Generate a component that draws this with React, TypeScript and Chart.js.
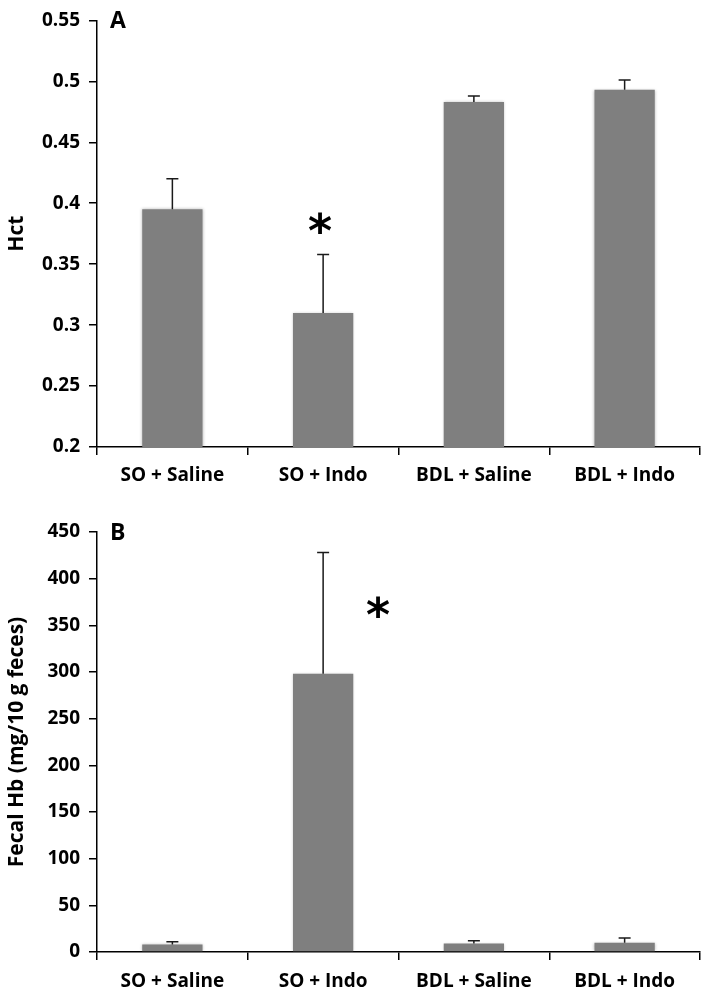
import React, { useEffect, useRef } from "react";
import { Chart, registerables } from "chart.js";

Chart.register(...registerables);

const categories = ["SO + Saline", "SO + Indo", "BDL + Saline", "BDL + Indo"];

const hctValues = [0.395, 0.31, 0.483, 0.493];
const hctErrors = [0.025, 0.048, 0.005, 0.008];
const hctTicks = [0.2, 0.25, 0.3, 0.35, 0.4, 0.45, 0.5, 0.55];
const hctStars = [null, 0.384, null, null];

const hbValues = [8, 298, 9, 10];
const hbErrors = [3, 130, 3, 5];
const hbTicks = [0, 50, 100, 150, 200, 250, 300, 350, 400, 450];
const hbStars = [null, 370, null, null];

const FONT = "'Open Sans', sans-serif";

type PanelProps = {
  letter: string;
  title: string;
  values: number[];
  errors: number[];
  ticks: number[];
  stars: (number | null)[];
  starDx: number;
  height: number;
  top: number;
  bottom: number;
  labelPad: number;
};

function Panel(p: PanelProps) {
  const ref = useRef<HTMLCanvasElement | null>(null);
  useEffect(() => {
    if (!ref.current) return;
    const decor = {
      id: "decor",
      beforeDatasetsDraw(chart: any) {
        const ctx = chart.ctx;
        ctx.save();
        ctx.shadowColor = "rgba(0,0,0,0.28)";
        ctx.shadowBlur = 3;
      },
      afterDatasetsDraw(chart: any) {
        const ctx = chart.ctx;
        ctx.restore();
        const xs = chart.scales.x;
        const ys = chart.scales.y;
        const meta = chart.getDatasetMeta(0);
        ctx.save();
        ctx.strokeStyle = "#1a1a1a";
        ctx.lineWidth = 1.5;
        meta.data.forEach((el: any, i: number) => {
          const yTop = ys.getPixelForValue(p.values[i] + p.errors[i]);
          ctx.beginPath();
          ctx.moveTo(el.x, el.y);
          ctx.lineTo(el.x, yTop);
          ctx.moveTo(el.x - 6, yTop);
          ctx.lineTo(el.x + 6, yTop);
          ctx.stroke();
        });
        ctx.fillStyle = "#000";
        ctx.font = "bold 46px 'DejaVu Sans', sans-serif";
        ctx.textAlign = "center";
        ctx.textBaseline = "alphabetic";
        p.stars.forEach((s, i) => {
          if (s == null) return;
          const cx = xs.getPixelForValue(i) + p.starDx;
          const cy = ys.getPixelForValue(s);
          const m = ctx.measureText("*");
          const asc = m.actualBoundingBoxAscent;
          const desc = m.actualBoundingBoxDescent;
          ctx.fillText("*", cx, cy + (asc - desc) / 2);
        });
        ctx.font = "bold 23px " + FONT;
        ctx.textAlign = "left";
        ctx.textBaseline = "middle";
        ctx.fillText(p.letter, 110, chart.chartArea.top + 1);
        ctx.restore();
      },
    };
    const chart = new Chart(ref.current, {
      type: "bar",
      data: {
        labels: categories,
        datasets: [
          {
            data: p.values,
            backgroundColor: "#7f7f7f",
            borderWidth: 0,
            barPercentage: 0.4,
            categoryPercentage: 1,
          },
        ],
      },
      options: {
        animation: false,
        responsive: false,
        devicePixelRatio: 1,
        layout: { padding: { top: p.top, right: 9, left: 0, bottom: 0 } },
        plugins: { legend: { display: false }, tooltip: { enabled: false } },
        scales: {
          x: {
            afterFit: (s: any) => {
              s.height = p.height - p.bottom;
            },
            grid: {
              display: true,
              drawOnChartArea: false,
              drawTicks: true,
              tickLength: 8,
              color: "#000",
              lineWidth: 1.5,
            },
            border: { display: true, color: "#000", width: 1.5 },
            ticks: {
              color: "#000",
              padding: p.labelPad,
              font: { family: FONT, size: 19, weight: "bold" },
              maxRotation: 0,
            },
          },
          y: {
            min: p.ticks[0],
            max: p.ticks[p.ticks.length - 1],
            afterBuildTicks: (s: any) => {
              s.ticks = p.ticks.map((v) => ({ value: v }));
            },
            afterFit: (s: any) => {
              s.width = 97;
            },
            grid: {
              display: true,
              drawOnChartArea: false,
              drawTicks: true,
              tickLength: 8,
              color: "#000",
              lineWidth: 1.5,
            },
            border: { display: true, color: "#000", width: 1.5 },
            ticks: {
              color: "#000",
              padding: 9,
              font: { family: FONT, size: 19, weight: "bold" },
              callback: (v: any) => String(Number(Number(v).toFixed(2))),
            },
            title: {
              display: true,
              text: p.title,
              color: "#000",
              padding: { top: 4, bottom: 0 },
              font: { family: FONT, size: 21, weight: "bold" },
            },
          },
        },
      },
      plugins: [decor],
    } as any);
    return () => chart.destroy();
  }, []);
  return (
    <canvas
      ref={ref}
      width={709}
      height={p.height}
      style={{ display: "block", width: 709, height: p.height }}
    />
  );
}

export default function App() {
  return (
    <div
      style={{
        position: "absolute",
        left: 0,
        top: 0,
        width: 709,
        height: 1002,
        background: "#fff",
      }}
    >
      <Panel
        letter="A"
        title="Hct"
        values={hctValues}
        errors={hctErrors}
        ticks={hctTicks}
        stars={hctStars}
        starDx={-3}
        height={492}
        top={15}
        bottom={447}
        labelPad={9}
      />
      <Panel
        letter="B"
        title="Fecal Hb (mg/10 g feces)"
        values={hbValues}
        errors={hbErrors}
        ticks={hbTicks}
        stars={hbStars}
        starDx={55}
        height={510}
        top={40}
        bottom={460}
        labelPad={10}
      />
    </div>
  );
}
